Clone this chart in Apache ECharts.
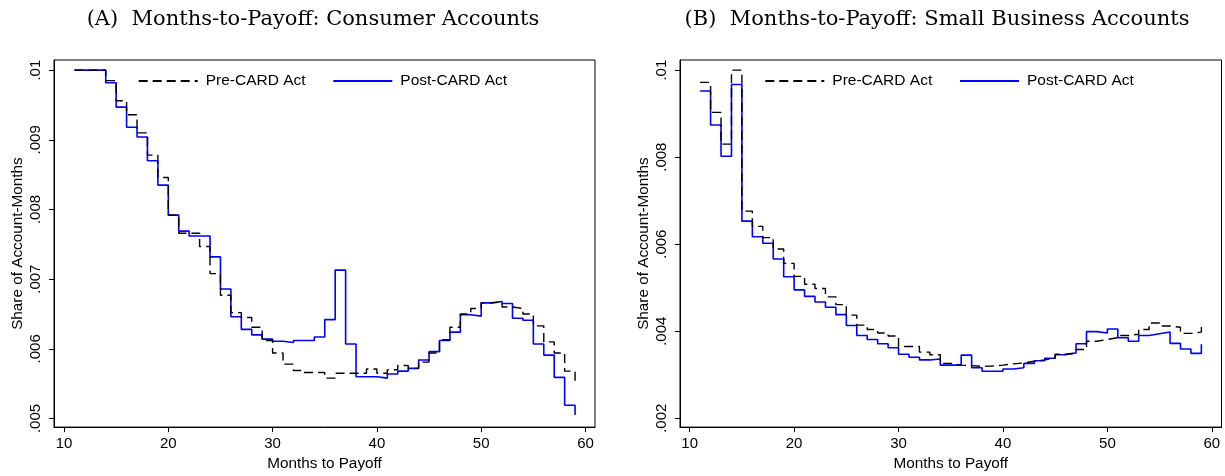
<!DOCTYPE html>
<html>
<head>
<meta charset="utf-8">
<script src="https://cdn.jsdelivr.net/npm/echarts@6/dist/echarts.min.js"></script>
<style>
  html, body { margin: 0; padding: 0; background: #ffffff; }
  #chart { width: 1225px; height: 476px; }
</style>
</head>
<body>
<div id="chart"></div>
<script>
// Months to payoff (x values shared by every series)
const months = [11, 12, 13, 14, 15, 16, 17, 18, 19, 20,
                21, 22, 23, 24, 25, 26, 27, 28, 29, 30,
                31, 32, 33, 34, 35, 36, 37, 38, 39, 40,
                41, 42, 43, 44, 45, 46, 47, 48, 49, 50,
                51, 52, 53, 54, 55, 56, 57, 58, 59];

// Panel A: consumer accounts, share of account-months
const consumerPre = [
  0.0100, 0.0100, 0.0100, 0.00985, 0.00956, 0.00936, 0.00910, 0.00878, 0.00846, 0.00792,
  0.00766, 0.00766, 0.00747, 0.00708, 0.00677, 0.00652, 0.00645, 0.00631, 0.00612, 0.00594,
  0.00578, 0.00569, 0.00566, 0.00566, 0.00558, 0.00565, 0.00565, 0.00565, 0.00571, 0.00565,
  0.00570, 0.00576, 0.00572, 0.00581, 0.00594, 0.00613, 0.00631, 0.00650, 0.00658, 0.00666,
  0.00667, 0.00660, 0.00658, 0.00650, 0.00633, 0.00610, 0.00594, 0.00568, 0.00554
];
const consumerPost = [
  0.0100, 0.0100, 0.0100, 0.00982, 0.00947, 0.00918, 0.00904, 0.00870, 0.00835, 0.00792,
  0.00769, 0.00762, 0.00762, 0.00732, 0.00686, 0.00646, 0.00628, 0.00620, 0.00614, 0.00611,
  0.00609, 0.00612, 0.00612, 0.00617, 0.00642, 0.00713, 0.00607, 0.00560, 0.00560, 0.00558,
  0.00564, 0.00568, 0.00572, 0.00584, 0.00596, 0.00612, 0.00624, 0.00649, 0.00647, 0.00666,
  0.00668, 0.00665, 0.00644, 0.00641, 0.00607, 0.00591, 0.00559, 0.00519, 0.00505
];

// Panel B: small business accounts, share of account-months
const businessPre = [
  0.00972, 0.00903, 0.00830, 0.01000, 0.00676, 0.00641, 0.00615, 0.00589, 0.00556, 0.00526,
  0.00508, 0.00498, 0.00479, 0.00461, 0.00437, 0.00414, 0.00404, 0.00396, 0.00389, 0.00365,
  0.00365, 0.00352, 0.00346, 0.00326, 0.00322, 0.00321, 0.00319, 0.00320, 0.00322, 0.00325,
  0.00327, 0.00331, 0.00334, 0.00338, 0.00347, 0.00350, 0.00358, 0.00377, 0.00381, 0.00385,
  0.00390, 0.00393, 0.00404, 0.00419, 0.00412, 0.00409, 0.00395, 0.00398, 0.00411
];
const businessPost = [
  0.00952, 0.00874, 0.00802, 0.00967, 0.00653, 0.00617, 0.00602, 0.00566, 0.00525, 0.00495,
  0.00480, 0.00467, 0.00455, 0.00438, 0.00413, 0.00390, 0.00381, 0.00371, 0.00362, 0.00347,
  0.00340, 0.00334, 0.00336, 0.00322, 0.00322, 0.00345, 0.00316, 0.00308, 0.00308, 0.00313,
  0.00316, 0.00326, 0.00332, 0.00338, 0.00346, 0.00350, 0.00371, 0.00399, 0.00396, 0.00405,
  0.00385, 0.00377, 0.00390, 0.00394, 0.00398, 0.00372, 0.00359, 0.00349, 0.00370
];

// Tick values
const xTicks = [10, 20, 30, 40, 50, 60];
const yTicksA = [0.005, 0.006, 0.007, 0.008, 0.009, 0.010];
const yTicksB = [0.002, 0.004, 0.006, 0.008, 0.010];

const seriesNames = ['Pre-CARD Act', 'Post-CARD Act'];
const panelTitles = ['(A)  Months-to-Payoff: Consumer Accounts',
                     '(B)  Months-to-Payoff: Small Business Accounts'];

const SANS = '"Liberation Sans", Arial, Helvetica, sans-serif';
const SERIF = '"DejaVu Serif", serif';

const pairs = vals => months.map((m, i) => [m, vals[i]]);
const fmtShare = v => String(+v.toFixed(3)).replace(/^0\./, '.');

function xAxisFor(gridIndex, min, max) {
  return {
    type: 'value', gridIndex, min, max,
    name: 'Months to Payoff', nameLocation: 'middle', nameGap: 28,
    nameTextStyle: { fontFamily: SANS, fontSize: 15.3, color: '#000' },
    axisLine: { show: true, onZero: false, lineStyle: { color: '#000', width: 1 } },
    axisTick: { show: true, length: 5, customValues: xTicks, lineStyle: { color: '#000', width: 1 } },
    axisLabel: { customValues: xTicks, margin: 9, fontFamily: SANS, fontSize: 15, color: '#000' },
    splitLine: { show: false }
  };
}
function yAxisFor(gridIndex, min, max, ticks) {
  return {
    type: 'value', gridIndex, min, max,
    name: 'Share of Account-Months', nameLocation: 'middle', nameGap: 29, nameRotate: 90,
    nameTextStyle: { fontFamily: SANS, fontSize: 15.3, color: '#000' },
    axisLine: { show: true, onZero: false, lineStyle: { color: '#000', width: 1 } },
    axisTick: { show: true, length: 5, customValues: ticks, lineStyle: { color: '#000', width: 1 } },
    axisLabel: { customValues: ticks, rotate: 90, margin: 11, fontFamily: SANS, fontSize: 15, color: '#000',
                 formatter: fmtShare },
    splitLine: { show: false }
  };
}
function lineSeries(name, idx, vals, dashed) {
  return {
    name, type: 'line', xAxisIndex: idx, yAxisIndex: idx,
    data: pairs(vals), step: 'end', symbol: 'none', showSymbol: false,
    silent: true, animation: false,
    lineStyle: dashed ? { color: '#000', width: 1.4, type: [9, 5] }
                      : { color: '#0000ff', width: 1.6, type: 'solid' },
    itemStyle: { color: dashed ? '#000' : '#0000ff' },
    z: dashed ? 3 : 2
  };
}
// Legend key: line sample only (the point marker is made fully transparent)
function legendFor(name, left) {
  return {
    data: [name], left, top: 73, padding: 0, orient: 'horizontal',
    itemWidth: 59, itemHeight: 16, selectedMode: false,
    itemStyle: { opacity: 0, borderWidth: 0 },
    textStyle: { fontFamily: SANS, fontSize: 15.5, color: '#000', padding: [0, 0, 0, 3] }
  };
}

const chart = echarts.init(document.getElementById('chart'), null, { renderer: 'canvas' });
chart.setOption({
  animation: false,
  backgroundColor: '#ffffff',
  title: [
    { text: panelTitles[0], left: 308, top: 4, textAlign: 'center',
      textStyle: { fontFamily: SERIF, fontSize: 21, fontWeight: 'normal', color: '#000' } },
    { text: panelTitles[1], left: 932, top: 4, textAlign: 'center',
      textStyle: { fontFamily: SERIF, fontSize: 21, fontWeight: 'normal', color: '#000' } }
  ],
  legend: [
    legendFor(seriesNames[0], 137.7),
    legendFor(seriesNames[1], 332.3),
    legendFor(seriesNames[0], 764.3),
    legendFor(seriesNames[1], 959)
  ],
  grid: [
    { left: 54, top: 60, width: 541, height: 372, show: true, borderColor: '#000', borderWidth: 1 },
    { left: 680, top: 60, width: 541.5, height: 372.3, show: true, borderColor: '#000', borderWidth: 1 }
  ],
  xAxis: [xAxisFor(0, 9.041, 60.911), xAxisFor(1, 9.071, 60.929)],
  yAxis: [yAxisFor(0, 0.0048768, 0.0101459, yTicksA), yAxisFor(1, 0.001796, 0.0102334, yTicksB)],
  series: [
    lineSeries(seriesNames[0], 0, consumerPre, true),
    lineSeries(seriesNames[1], 0, consumerPost, false),
    lineSeries(seriesNames[0], 1, businessPre, true),
    lineSeries(seriesNames[1], 1, businessPost, false)
  ]
});
</script>
</body>
</html>
